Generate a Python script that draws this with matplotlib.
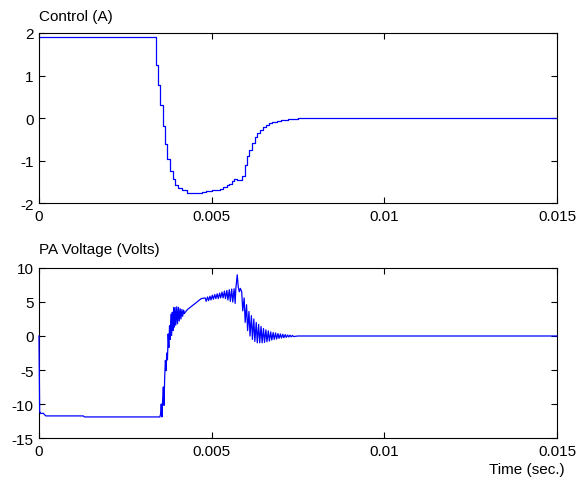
import numpy as np
import matplotlib
matplotlib.use('Agg')
import matplotlib.pyplot as plt

plt.rcParams['font.family'] = ['Liberation Sans', 'DejaVu Sans']
plt.rcParams['axes.unicode_minus'] = False

# --- Datos ---
# Senal de control (A), retencion de orden cero
ctrl_t = [0, 0.00339, 0.003446, 0.003504, 0.003581, 0.00365, 0.003716, 0.003793,
          0.00387, 0.003938, 0.004025, 0.00413, 0.004274, 0.00471, 0.00485, 0.0050,
          0.00512, 0.00524, 0.00534, 0.00543, 0.0055, 0.00558, 0.00566, 0.00573,
          0.00587, 0.00596, 0.00601, 0.00608, 0.00616, 0.00625, 0.00632, 0.0064,
          0.00648, 0.00656, 0.00665, 0.00675, 0.00688, 0.0070, 0.0072, 0.0075, 0.015]
ctrl_v = [1.91, 1.25, 0.78, 0.31, -0.18, -0.6, -0.97, -1.25,
          -1.43, -1.57, -1.65, -1.70, -1.75, -1.73, -1.72, -1.70,
          -1.68, -1.66, -1.62, -1.58, -1.54, -1.47, -1.42, -1.45,
          -1.36, -1.10, -0.88, -0.74, -0.58, -0.44, -0.36, -0.29,
          -0.22, -0.17, -0.12, -0.09, -0.06, -0.04, -0.02, 0.0, 0.0]

# Tension del PA (V)
pa_t = [0, 0.00002, 0.00005, 0.00012, 0.0002, 0.00128, 0.00132, 0.0035,
        # subida con oscilaciones
        0.00352, 0.00354, 0.00356, 0.00358, 0.0036, 0.00362, 0.00364, 0.00366,
        0.00368, 0.0037, 0.00372, 0.00374, 0.00376, 0.00378, 0.0038, 0.00382,
        0.00384, 0.00386, 0.00388, 0.0039, 0.00392, 0.00394, 0.00396, 0.00399,
        0.00401, 0.00404, 0.00406, 0.00409, 0.00411, 0.00414, 0.00416, 0.00419,
        0.00421, 0.00425, 0.0043, 0.00435, 0.0044, 0.00445, 0.0045, 0.00455,
        0.0046, 0.00465, 0.0047,
        # meseta con rizado
        0.00481, 0.00484, 0.00488, 0.00491, 0.00495, 0.00498, 0.00502, 0.00505,
        0.00509, 0.00512, 0.00516, 0.00519, 0.00523, 0.00526, 0.0053, 0.00533,
        0.00537, 0.0054, 0.00544, 0.00547, 0.00551, 0.00554, 0.00558, 0.00561,
        0.00565, 0.00568, 0.0057, 0.00574, 0.00577, 0.0058, 0.00583,
        # caida amortiguada
        0.00587, 0.0059, 0.00594, 0.00597, 0.00601, 0.00604, 0.00608, 0.00611,
        0.00615, 0.00618, 0.00622, 0.00625, 0.00629, 0.00632, 0.00636, 0.00639,
        0.00643, 0.00646, 0.0065, 0.00653, 0.00657, 0.0066, 0.00664, 0.00667,
        0.00671, 0.00674, 0.00678, 0.00681, 0.00685, 0.00688, 0.00692, 0.00695,
        0.00699, 0.00702, 0.00706, 0.00709, 0.00713, 0.00716, 0.0072, 0.00723,
        0.00727, 0.0073, 0.00734, 0.00737, 0.0075, 0.015]
pa_v = [0.0, -11.1, -11.4, -11.35, -11.75, -11.75, -11.9, -11.9,
        -11.5, -10.0, -11.9, -9.5, -7.5, -10.2, -6.0, -3.6,
        -5.1, -2.5, -3.5, 0.3, -1.7, 1.5, -0.5, 3.2,
        0.06, 3.5, 0.8, 4.2, 1.3, 4.2, 1.6, 4.3,
        1.8, 4.2, 2.2, 4.0, 2.5, 3.9, 2.9, 3.8,
        3.3, 3.6, 3.9, 4.1, 4.3, 4.5, 4.7, 4.9,
        5.1, 5.3, 5.5,
        5.6, 5.1, 5.75, 5.2, 5.85, 5.3, 6.0, 5.4,
        6.1, 5.5, 6.2, 5.5, 6.3, 5.6, 6.45, 5.6,
        6.6, 5.5, 6.7, 5.3, 6.8, 5.1, 6.9, 5.0,
        6.95, 4.8, 7.0, 9.0, 7.2, 6.5, 7.0,
        6.5, 3.7, 5.6, 2.0, 4.6, 0.8, 3.6, 0.0,
        3.0, -0.5, 2.5, -0.8, 2.0, -1.0, 1.7, -1.0,
        1.4, -1.0, 1.1, -0.95, 0.9, -0.85, 0.75, -0.75,
        0.6, -0.6, 0.5, -0.5, 0.45, -0.45, 0.35, -0.35,
        0.3, -0.3, 0.25, -0.25, 0.2, -0.2, 0.15, -0.15,
        0.12, -0.12, 0.08, -0.08, 0.0, 0.0]

x_ticks = [0, 0.005, 0.01, 0.015]
x_labels = ['0', '0.005', '0.01', '0.015']

# --- Figura ---
fig = plt.figure(figsize=(5.87, 4.85), dpi=100)
ax1 = fig.add_axes([0.0664, 0.579, 0.8826, 0.351])
ax2 = fig.add_axes([0.0664, 0.0948, 0.8826, 0.3506])

ax1.plot(ctrl_t, ctrl_v, color='blue', linewidth=0.9, drawstyle='steps-post')
# la traza se dibuja encima del eje para que se vea el tramo vertical en t=0
ax2.plot(pa_t, pa_v, color='blue', linewidth=0.9, zorder=3, clip_on=False)

ax1.set_ylim(-2, 2)
ax1.set_yticks([-2, -1, 0, 1, 2])
ax2.set_ylim(-15, 10)
ax2.set_yticks([-15, -10, -5, 0, 5, 10])

for ax in (ax1, ax2):
    ax.set_xlim(0, 0.015)
    ax.set_xticks(x_ticks)
    ax.set_xticklabels(x_labels)
    ax.tick_params(direction='in', top=True, right=True, length=4, width=0.8,
                   labelsize=11, pad=4)
    for s in ax.spines.values():
        s.set_linewidth(0.8)

ax1.set_title('Control (A)', loc='left', fontsize=11, pad=9)
ax2.set_title('PA Voltage (Volts)', loc='left', fontsize=11, pad=11)
fig.text(527 / 587, 1 - 470 / 485, 'Time (sec.)', fontsize=11, ha='center', va='center')

fig.savefig('out.png', dpi=100)
